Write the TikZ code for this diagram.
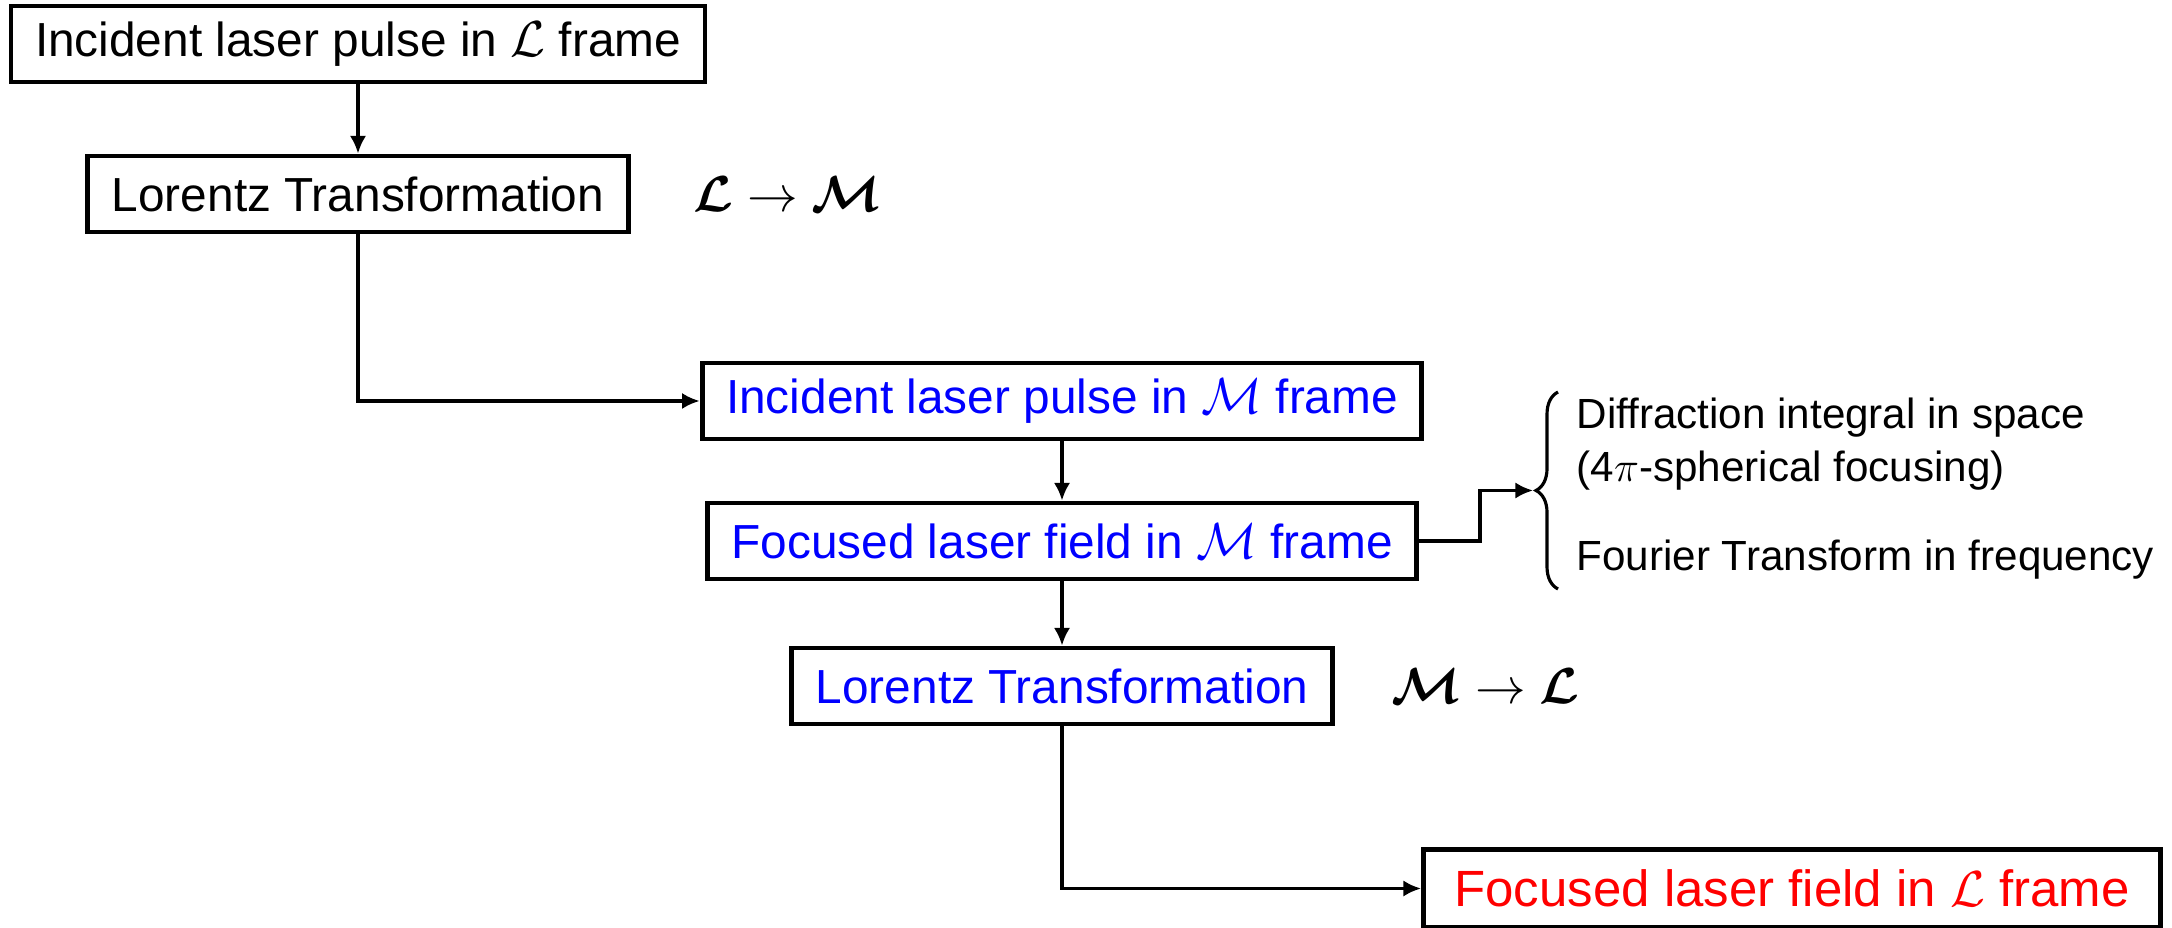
\documentclass[tikz,border=0pt]{standalone}
\usepackage{fontspec}
\setmainfont{Liberation Sans}
\usepackage{bm}
\usetikzlibrary{positioning,decorations.pathreplacing,arrows.meta}
\begin{document}
\begin{tikzpicture}[
    box/.style={draw, line width=1.4pt, inner xsep=0.24cm, minimum height=0.76cm,
      font=\fontsize{13.6}{16}\selectfont},
    trf/.style={font=\fontsize{15}{18}\selectfont, inner sep=0pt},
    note/.style={font=\fontsize{12}{14}\selectfont, inner sep=0pt, anchor=west},
    conn/.style={line width=0.9pt},
    >={Latex[length=5pt,width=4.6pt]}
  ]
  \useasboundingbox (0,0) rectangle (21.72,-9.28);
  \node[box] (inL) at (3.58,-0.44) {Incident laser pulse in $\mathcal{L}$ frame};
  \node[box] (ltA) at (3.58,-1.94) {Lorentz Transformation};
  \node[trf, right=0.62cm of ltA] (trA) {$\bm{\mathcal{L}}\rightarrow\bm{\mathcal{M}}$};
  \node[box, text=blue] (inM) at (10.62,-4.01) {Incident laser pulse in $\mathcal{M}$ frame};
  \node[box, text=blue] (focM) at (10.62,-5.41) {Focused laser field in $\mathcal{M}$ frame};
  \node[box, text=blue] (ltB) at (10.62,-6.86) {Lorentz Transformation};
  \node[trf, right=0.56cm of ltB] (trB) {$\bm{\mathcal{M}}\rightarrow\bm{\mathcal{L}}$};
  \node[box, text=red, inner xsep=0.31cm, minimum height=0.78cm, font=\fontsize{14.5}{17}\selectfont]
    (focL) at (17.92,-8.885) {Focused laser field in $\mathcal{L}$ frame};

  \coordinate (brB) at (15.58,-5.89);
  \coordinate (brT) at (15.58,-3.92);
  \coordinate (tip) at (15.33,-4.905);
  \draw[conn, decorate, decoration={brace, amplitude=0.22cm}] (brB) -- (brT);
  \node[note] (diff) at (15.76,-4.18) {Diffraction integral in space};
  \node[note] (sph) at (15.76,-4.71) {(4$\pi$-spherical focusing)};
  \node[note] (four) at (15.76,-5.60) {Fourier Transform in frequency};

  \draw[conn,->] (inL) -- (ltA);
  \draw[conn,->] (ltA.south) |- (inM.west);
  \draw[conn,->] (inM) -- (focM);
  \draw[conn,->] (focM) -- (ltB);
  \draw[conn,->] (focM.east) -- ++(0.61,0) |- (tip);
  \draw[conn,->] (ltB.south) |- (focL.west);
\end{tikzpicture}
\end{document}
